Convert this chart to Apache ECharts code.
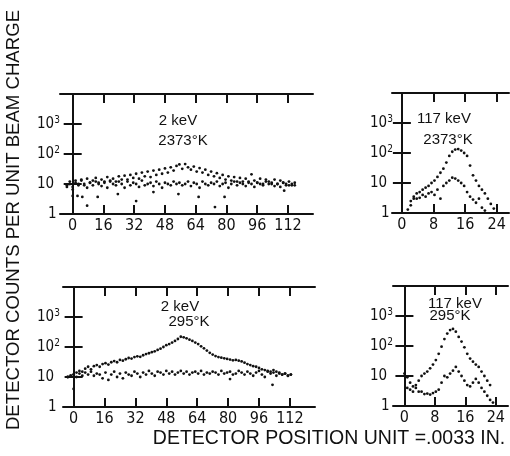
<!DOCTYPE html>
<html>
<head>
<meta charset="utf-8">
<script src="https://cdn.jsdelivr.net/npm/echarts@6.0.0/dist/echarts.min.js"></script>
<style>
  html, body { margin: 0; padding: 0; background: #fff; }
  #chart { width: 510px; height: 456px; }
</style>
</head>
<body>
<div id="chart"></div>
<script>
/* jshint esversion: 6 */
// detector positions (units of .0033 in.)
let leftPos = [-3, -1.5, 0, 1.5, 3, 4.5, 6, 7.5, 9, 10.5, 12, 13.5, 15, 16.5, 18, 19.5, 21, 22.5, 24, 25.5,
  27, 28.5, 30, 31.5, 33, 34.5, 36, 37.5, 39, 40.5, 42, 43.5, 45, 46.5, 48, 49.5, 51, 52.5, 54, 55.5,
  57, 58.5, 60, 61.5, 63, 64.5, 66, 67.5, 69, 70.5, 72, 73.5, 75, 76.5, 78, 79.5, 81, 82.5, 84, 85.5,
  87, 88.5, 90, 91.5, 93, 94.5, 96, 97.5, 99, 100.5, 102, 103.5, 105, 106.5, 108, 109.5, 111, 112.5, 114, 115.5];
let rightPos = [0, 0.75, 1.5, 2.25, 3, 3.75, 4.5, 5.25, 6, 6.75, 7.5, 8.25, 9, 9.75, 10.5, 11.25,
  12, 12.75, 13.5, 14.25, 15, 15.75, 16.5, 17.25, 18, 18.75, 19.5, 20.25, 21, 21.75, 22.5, 23.25];

// tick labels
let leftTicks = [0, 16, 32, 48, 64, 80, 96, 112];
let rightTicks = [0, 8, 16, 24];

// 2 keV, 2373 K
let tlHump = [9, 12, 8, 13, 10, 14, 9, 15, 11, 13,
  16, 11, 14, 12, 17, 13, 15, 12, 18, 14,
  19, 14, 20, 16, 22, 15, 24, 18, 26, 17,
  28, 20, 30, 22, 33, 24, 36, 28, 40, 45,
  32, 46, 36, 30, 38, 26, 34, 24, 30, 20,
  26, 18, 23, 16, 20, 14, 18, 13, 17, 12,
  16, 12, 15, 11, 21, 13, 11, 15, 10, 14,
  12, 10, 14, 10, 13, 11, 9, 12, 9, 11];
let tlFlat = [8, 10, 6.5, 11, 9, 13, 10, 7.5, 11, 9,
  12, 10, 8.5, 11, 7.5, 12, 10, 9, 12, 10,
  7.5, 12, 9, 11, 10, 8, 13, 9, 10, 11,
  8.5, 12, 10, 7.5, 11, 10, 9, 12, 10, 11,
  9, 10, 12, 8.5, 11, 10, 7.5, 12, 10, 9,
  11, 10, 12, 8.5, 10, 11, 7.5, 10, 12, 9,
  11, 10, 8.5, 12, 10, 8, 11, 10, 9, 12,
  10, 11, 8.5, 10, 8, 11, 10, 9, 10, 9];
let tlLow = [[0, 4], [2.5, 4], [5, 3.7], [7.5, 1.9], [13, 3.7], [23.5, 4.6], [33, 2.7], [42, 5.4],
  [55, 4.6], [65.5, 3.7], [74, 1.7], [79, 3.7], [110, 6]];

// 117 keV, 2373 K
let trHump = ['-', '-', 1.3, 1.8, 3, 4.5, 5, 6, 7, 8, 10, 12, 16, 22, 30, 48,
  80, 110, 130, 135, 120, 100, 80, 38, 18, 12, 8, 6, 4.5, 3, 2, 1.4];
let trFlat = ['-', '-', '-', 2.5, 3.5, 3, 3.2, 4, 3.5, 4.5, 5, 4, 6, 3, 8, 10,
  12, 15, 14, 12, 10, 8, 5, 3.5, 2.8, 2.2, 3, 1.5, 1.2, '-', '-', '-'];

// 2 keV, 295 K
let blHump = [10, 11, 12, 14, 16, 15, 19, 22, 18, 23,
  25, 22, 27, 29, 26, 31, 34, 31, 37, 35,
  39, 43, 41, 46, 49, 47, 53, 58, 62, 67,
  72, 80, 88, 100, 115, 125, 140, 160, 185, 220,
  210, 195, 175, 160, 140, 125, 105, 90, 76, 64,
  56, 50, 46, 44, 42, 40, 38, 36, 37, 35,
  33, 30, 27, 25, 23, 22, 20, 18, 17, 16,
  15, 14, 15, 13, 12, 13, 11, 12];
let blFlat = [10, 11, 12, 10, 13, 11, 14, 12, 15, 11,
  13, 12, 9, 14, 8, 12, 15, 10, 13, 9,
  14, 12, 11, 15, 13, 10, 14, 12, 16, 13,
  11, 15, 14, 12, 16, 13, 15, 12, 14, 16,
  13, 15, 12, 14, 15, 13, 16, 12, 14, 13,
  15, 14, 12, 16, 13, 14, 15, 12, 13, 16,
  14, 12, 15, 13, 11, 14, 16, 12, 10, 15,
  13, 17, 11, 14, 12, 13, 11, 12];
let blLow = [[0, 4], [81, 8.5], [103, 5.5]];

// 117 keV, 295 K
let brHump = [12, 9, 6, 4.5, 5, 7, 10, 12, 14, 18, 24, 34, 55, 95, 170, 260,
  340, 370, 300, 200, 140, 90, 55, 38, 30, 24, 20, 14, 10, 7, 5, '-'];
let brFlat = ['-', 4, 3.5, 3, 4, 3, 3, 2.5, 2.6, 2.4, 2.7, 3, 3.5, 6, 10, 9,
  12, 15, 20, 14, 10, 7, 5, 4.5, 6, 8, 6, 4, 3, 2.2, 1.6, 1.3];

// =====================================================================================================================
let ink = '#111';
let narrow = '"Liberation Sans Narrow", "DejaVu Sans Condensed", sans-serif';
let sans = '"Liberation Sans", Arial, sans-serif';

function zip(pos, vals) {
  let out = [];
  vals.forEach(function (v, i) {
    if (v !== '-') {
      out.push([pos[i], v]);
    }
  });
  return out;
}

function decadeLabel(v) {
  let p = Math.round(Math.log10(v));
  if (p === 0) { return '{one|1}'; }
  if (p === 1) { return '{b|10}'; }
  if (p <= 3) { return '{b|10}{sup|' + p + '}'; }
  return '';
}

let panels = [
  {left: 60, top: 94, width: 253, xMin: -6.6, xMax: 125, ticks: leftTicks, margin: 23,
    series: [zip(leftPos, tlHump), zip(leftPos, tlFlat), tlLow]},
  {left: 392, top: 93, width: 117, xMin: -2.5, xMax: 27.1, ticks: rightTicks, margin: 22,
    series: [zip(rightPos, trHump), zip(rightPos, trFlat)]},
  {left: 63, top: 287, width: 252, xMin: -5.5, xMax: 125, ticks: leftTicks, margin: 26,
    series: [zip(leftPos, blHump), zip(leftPos, blFlat), blLow]},
  {left: 393, top: 286, width: 115, xMin: -3, xMax: 27.2, ticks: rightTicks, margin: 23,
    series: [zip(rightPos, brHump), zip(rightPos, brFlat)]}
];

let lineStyle = {color: ink, width: 2};
let grids = [], xAxes = [], yAxes = [], series = [];

panels.forEach(function (p, i) {
  grids.push({left: p.left, top: p.top, width: p.width, height: 120});
  ['bottom', 'top'].forEach(function (pos) {
    xAxes.push({
      type: 'value', gridIndex: i, position: pos, min: p.xMin, max: p.xMax,
      axisLine: {onZero: false, lineStyle: lineStyle},
      axisTick: {inside: true, length: 9, customValues: p.ticks, lineStyle: lineStyle},
      axisLabel: {
        show: pos === 'bottom', customValues: p.ticks, margin: 4,
        color: ink, fontFamily: narrow, fontSize: 16
      },
      splitLine: {show: false}
    });
  });
  ['left', 'right'].forEach(function (pos) {
    yAxes.push({
      type: 'log', logBase: 10, gridIndex: i, position: pos, min: 1, max: 10000,
      axisLine: {lineStyle: lineStyle},
      axisTick: {inside: true, length: 9, lineStyle: lineStyle},
      axisLabel: {
        show: pos === 'left', align: 'left', margin: p.margin, formatter: decadeLabel,
        rich: {
          b: {fontSize: 15, fontFamily: narrow, color: ink, lineHeight: 18},
          sup: {fontSize: 10, fontFamily: narrow, color: ink, lineHeight: 10, verticalAlign: 'top'},
          one: {fontSize: 15, fontFamily: narrow, color: ink, padding: [0, 0, 0, 11]}
        }
      },
      splitLine: {show: false}
    });
  });
  p.series.forEach(function (d) {
    series.push({
      type: 'scatter', xAxisIndex: 2 * i, yAxisIndex: 2 * i, data: d,
      symbolSize: 2.8, itemStyle: {color: ink, opacity: 1}, silent: true
    });
  });
});

function note(text, x, y) {
  return {type: 'text', x: x, y: y, silent: true,
    style: {text: text, font: '15px ' + sans, fill: ink, align: 'center', verticalAlign: 'middle'}};
}

let option = {
  animation: false,
  backgroundColor: '#fff',
  grid: grids,
  xAxis: xAxes,
  yAxis: yAxes,
  series: series,
  graphic: [
    note('2 keV', 178, 121), note('2373°K', 183, 141),
    note('117 keV', 444, 119), note('2373°K', 448, 140),
    note('2 keV', 180, 307), note('295°K', 189, 322),
    note('117 keV', 455, 304), note('295°K', 450, 316),
    {type: 'text', x: 329, y: 439, silent: true,
      style: {text: 'DETECTOR POSITION UNIT =.0033 IN.', font: '19.5px ' + sans, fill: ink,
        align: 'center', verticalAlign: 'middle'}},
    {type: 'text', x: 14, y: 220, rotation: Math.PI / 2, silent: true,
      style: {text: 'DETECTOR COUNTS PER UNIT BEAM CHARGE', font: '18.6px ' + sans, fill: ink,
        align: 'center', verticalAlign: 'middle'}}
  ]
};

let chart = echarts.init(document.getElementById('chart'));
chart.setOption(option);
</script>
</body>
</html>
